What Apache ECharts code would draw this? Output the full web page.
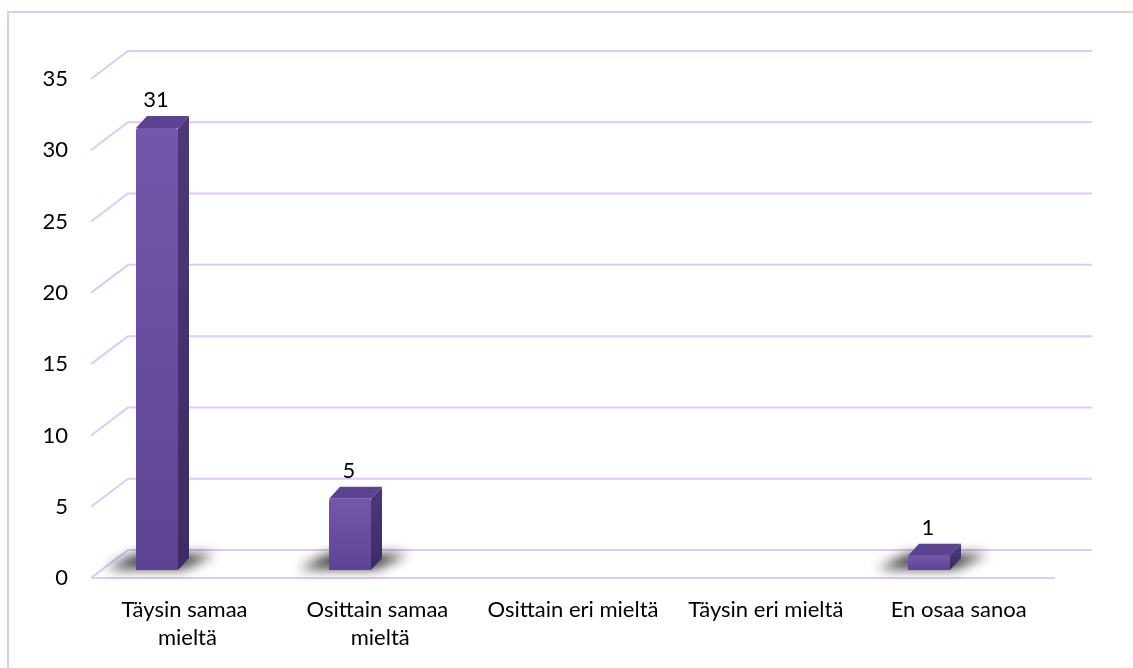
<!DOCTYPE html>
<html>
<head>
<meta charset="utf-8">
<title>Vastaukset</title>
<script src="https://cdn.jsdelivr.net/npm/echarts@6/dist/echarts.min.js"></script>
<style>
  html, body { margin: 0; padding: 0; background: #ffffff; }
  #chart { width: 1133px; height: 668px; }
</style>
</head>
<body>
<div id="chart"></div>
<script>
// Answer categories and the number of respondents for each
const categories = ['Täysin samaa mieltä', 'Osittain samaa mieltä', 'Osittain eri mieltä', 'Täysin eri mieltä', 'En osaa sanoa'];
const counts = [31, 5, 0, 0, 1];
// Value axis ticks
const yTicks = [0, 5, 10, 15, 20, 25, 30, 35];

const FONT = 'Lato, "Liberation Sans", sans-serif';
const FONT_SIZE = 22;
const GRID_COLOR = '#E1C8F7';
const WALL_DX = 37, WALL_DY = -28;   // oblique depth of the back wall and floor
const BAR_DX = 11, BAR_DY = -12;     // depth of each column
const BAR_W = 42;

const chart = echarts.init(document.getElementById('chart'), null, { renderer: 'canvas' });

// Floor and back-wall grid lines: a diagonal from the front edge, then a line along the back wall
function renderWall(params, api) {
  const cs = params.coordSys;
  const v = api.value(1);
  const y = api.coord([0, v])[1];
  const x0 = cs.x, x1 = cs.x + cs.width;
  const children = [{
    type: 'polyline',
    shape: { points: [[x0, y], [x0 + WALL_DX, y + WALL_DY], [x1 + WALL_DX, y + WALL_DY]] },
    style: { stroke: GRID_COLOR, lineWidth: 2, fill: null }
  }];
  if (v === 0) {
    children.push({
      type: 'line',
      shape: { x1: x0, y1: y, x2: x1, y2: y },
      style: { stroke: GRID_COLOR, lineWidth: 2 }
    });
  }
  return { type: 'group', children: children };
}

// 3D column: soft floor shadow, front face, side face, top face and value label
function renderBar(params, api) {
  const idx = api.value(0);
  const v = api.value(1);
  if (!v) return null;
  const base = api.coord([idx, 0]);
  const cx = base[0], yb = base[1];
  const yt = api.coord([idx, v])[1];
  const L = cx - BAR_W / 2, R = cx + BAR_W / 2;
  const OFF = 2000;
  const children = [
    {
      // shadow drawn from an off-screen shape so only its blurred copy lands on the floor
      type: 'polygon',
      shape: { points: [
        [L - 30, yb - 1 - OFF], [R + 6, yb - 1 - OFF],
        [R + BAR_DX + 26, yb + BAR_DY - 4 - OFF], [L + BAR_DX - 12, yb + BAR_DY - 4 - OFF]
      ] },
      style: { fill: '#000', shadowColor: 'rgba(0,0,0,0.75)', shadowBlur: 12, shadowOffsetY: OFF }
    },
    {
      type: 'polygon',
      shape: { points: [[R, yt], [R + BAR_DX, yt + BAR_DY], [R + BAR_DX, yb + BAR_DY], [R, yb]] },
      style: { fill: new echarts.graphic.LinearGradient(0, 0, 0, 1, [
        { offset: 0, color: '#4D3879' }, { offset: 1, color: '#3D2B64' }
      ]) }
    },
    {
      type: 'polygon',
      shape: { points: [[L, yt], [L + BAR_DX, yt + BAR_DY], [R + BAR_DX, yt + BAR_DY], [R, yt]] },
      style: { fill: '#5C4290' }
    },
    {
      type: 'rect',
      shape: { x: L, y: yt, width: BAR_W, height: yb - yt, r: [2, 2, 0, 0] },
      style: { fill: new echarts.graphic.LinearGradient(0, 0, 0, 1, [
        { offset: 0, color: '#7457AA' }, { offset: 1, color: '#5D4493' }
      ]) }
    },
    {
      type: 'text',
      style: {
        x: cx - 1, y: yt + BAR_DY - 16,
        text: String(v),
        font: FONT_SIZE + 'px ' + FONT,
        fill: '#000000',
        align: 'center', verticalAlign: 'middle'
      }
    }
  ];
  return { type: 'group', children: children };
}

const option = {
  backgroundColor: '#ffffff',
  animation: false,
  graphic: [{
    type: 'rect', silent: true, z: 0,
    shape: { x: 8, y: 12, width: 1200, height: 700 },
    style: { fill: null, stroke: GRID_COLOR, lineWidth: 2 }
  }],
  grid: [
    { left: 91, right: 78, top: 79, bottom: 90, outerBoundsMode: 'none' },
    { left: 60.5, right: 107.5, top: 71, bottom: 98, outerBoundsMode: 'none' }
  ],
  xAxis: [
    {
      type: 'category', gridIndex: 0, data: categories,
      axisLine: { show: false }, axisTick: { show: false }, splitLine: { show: false },
      axisLabel: {
        color: '#000000', fontFamily: FONT, fontSize: FONT_SIZE,
        lineHeight: 28, margin: 18, width: 185, overflow: 'break', interval: 0
      }
    },
    {
      type: 'category', gridIndex: 1, data: categories, show: false
    }
  ],
  yAxis: [
    {
      type: 'value', gridIndex: 0, min: 0, max: 35, interval: 5,
      axisLine: { show: false }, axisTick: { show: false }, splitLine: { show: false },
      axisLabel: { color: '#000000', fontFamily: FONT, fontSize: FONT_SIZE, margin: 23 }
    },
    {
      type: 'value', gridIndex: 1, min: 0, max: 35, interval: 5, show: false,
      splitLine: { show: false }
    }
  ],
  series: [
    {
      name: 'grid', type: 'custom', xAxisIndex: 0, yAxisIndex: 0,
      clip: false, silent: true, z: 1,
      renderItem: renderWall,
      data: yTicks.map(function (t) { return [0, t]; })
    },
    {
      name: 'Vastaukset', type: 'custom', xAxisIndex: 1, yAxisIndex: 1,
      clip: false, silent: true, z: 2,
      renderItem: renderBar,
      data: counts.map(function (c, i) { return [i, c]; })
    }
  ]
};

chart.setOption(option);
</script>
</body>
</html>
